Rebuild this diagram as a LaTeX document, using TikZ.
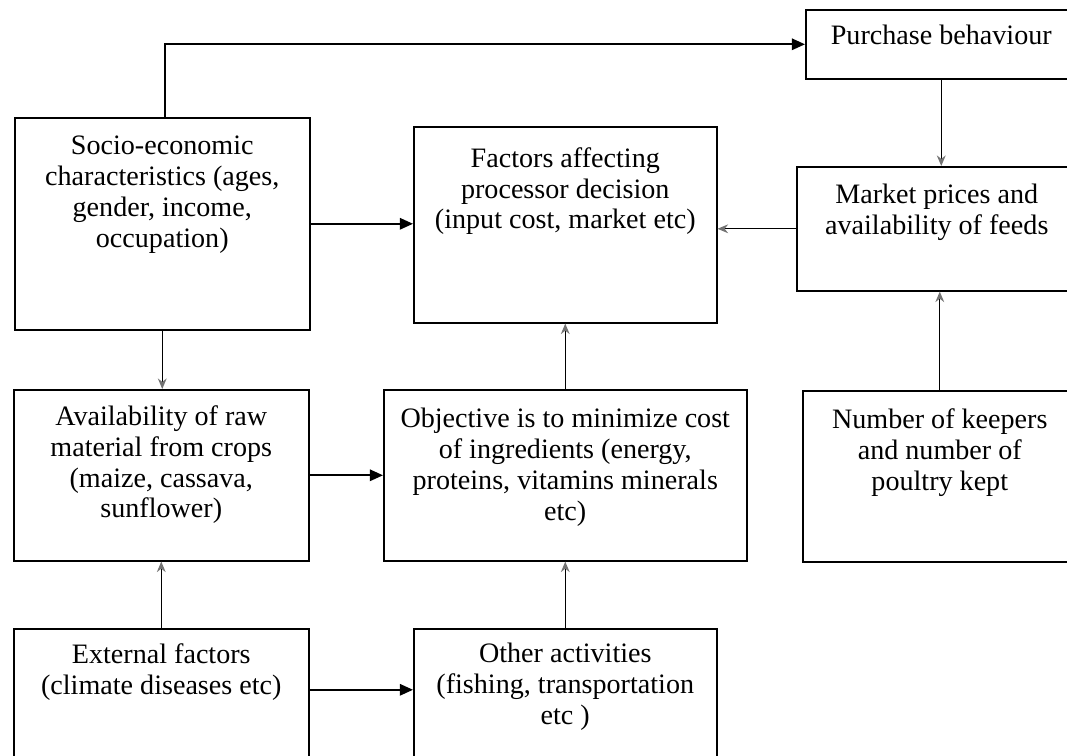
\documentclass[tikz,border=0pt]{standalone}
\usepackage{fontspec}
\setmainfont{Liberation Serif}
\usetikzlibrary{positioning,arrows.meta}

\tikzset{
  box/.style={draw, line width=0.9pt, anchor=north west, inner sep=0pt},
  txt/.style={inner sep=0pt, align=center, font={\fontsize{16}{17.6}\selectfont}},
  arr/.style={line width=1.1pt, -{Triangle[length=7.5pt,width=6.5pt]}},
  sarr/.style={line width=0.8pt, -{Stealth[length=6pt,width=5pt,color=black!55]}}
}

\begin{document}
\begin{tikzpicture}[x=0.02cm, y=-0.02cm]
  \useasboundingbox (0,0) rectangle (1067,755);
  \clip (0,0) rectangle (1067,755);

  % boxes
  \node[box, minimum width=5.42cm, minimum height=1.38cm] (purch) at (805,9) {};
  \node[box, minimum width=5.90cm, minimum height=4.24cm] (soc)   at (14,117) {};
  \node[box, minimum width=6.06cm, minimum height=3.92cm] (fac)   at (413,126) {};
  \node[box, minimum width=5.60cm, minimum height=2.48cm] (mkt)   at (796,166) {};
  \node[box, minimum width=5.90cm, minimum height=3.42cm] (avail) at (13,389) {};
  \node[box, minimum width=7.26cm, minimum height=3.42cm] (obj)   at (383,389) {};
  \node[box, minimum width=5.48cm, minimum height=3.42cm] (keep)  at (802,390) {};
  \node[box, minimum width=5.90cm, minimum height=2.84cm] (ext)   at (13,628) {};
  \node[box, minimum width=6.06cm, minimum height=2.84cm] (oth)   at (413,628) {};

  % texts
  \node[txt, below=0.32cm of purch.north] (purchT) {Purchase behaviour};
  \node[txt, below=0.38cm of soc.north] (socT) {Socio-economic\\characteristics (ages,\\gender, income,\\occupation)};
  \node[txt, below=0.42cm of fac.north] (facT) {Factors affecting\\processor decision\\(input cost, market etc)};
  \node[txt, below=0.36cm of mkt.north] (mktT) {Market prices and\\availability of feeds};
  \node[txt, below=0.32cm of avail.north] (availT) {Availability of raw\\material from crops\\(maize, cassava,\\sunflower)};
  \node[txt, below=0.38cm of obj.north] (objT) {Objective is to minimize cost\\of ingredients (energy,\\proteins, vitamins minerals\\etc)};
  \node[txt, below=0.36cm of keep.north] (keepT) {Number of keepers\\and number of\\poultry kept};
  \node[txt, below=0.30cm of ext.north] (extT) {External factors\\(climate diseases etc)};
  \node[txt, below=0.30cm of oth.north] (othT) {Other activities\\(fishing, transportation\\etc )};

  % connectors
  \draw[arr] ([xshift=0.06cm]soc.north) |- (purch.west);
  \draw[arr] (soc.east) -- (soc.east -| fac.west);
  \draw[arr] (avail.east) -- (avail.east -| obj.west);
  \draw[arr] ([yshift=0.2cm]ext.east) -- ([yshift=0.2cm]ext.east -| oth.west);
  \draw[sarr] (mkt.west) -- (mkt.west -| fac.east);
  \draw[sarr] (purch.south) -- (purch.south |- mkt.north);
  \draw[sarr] (keep.north) -- (keep.north |- mkt.south);
  \draw[sarr] (soc.south) -- (soc.south |- avail.north);
  \draw[sarr] (obj.north) -- (obj.north |- fac.south);
  \draw[sarr] (ext.north) -- (ext.north |- avail.south);
  \draw[sarr] (oth.north) -- (oth.north |- obj.south);
\end{tikzpicture}
\end{document}
